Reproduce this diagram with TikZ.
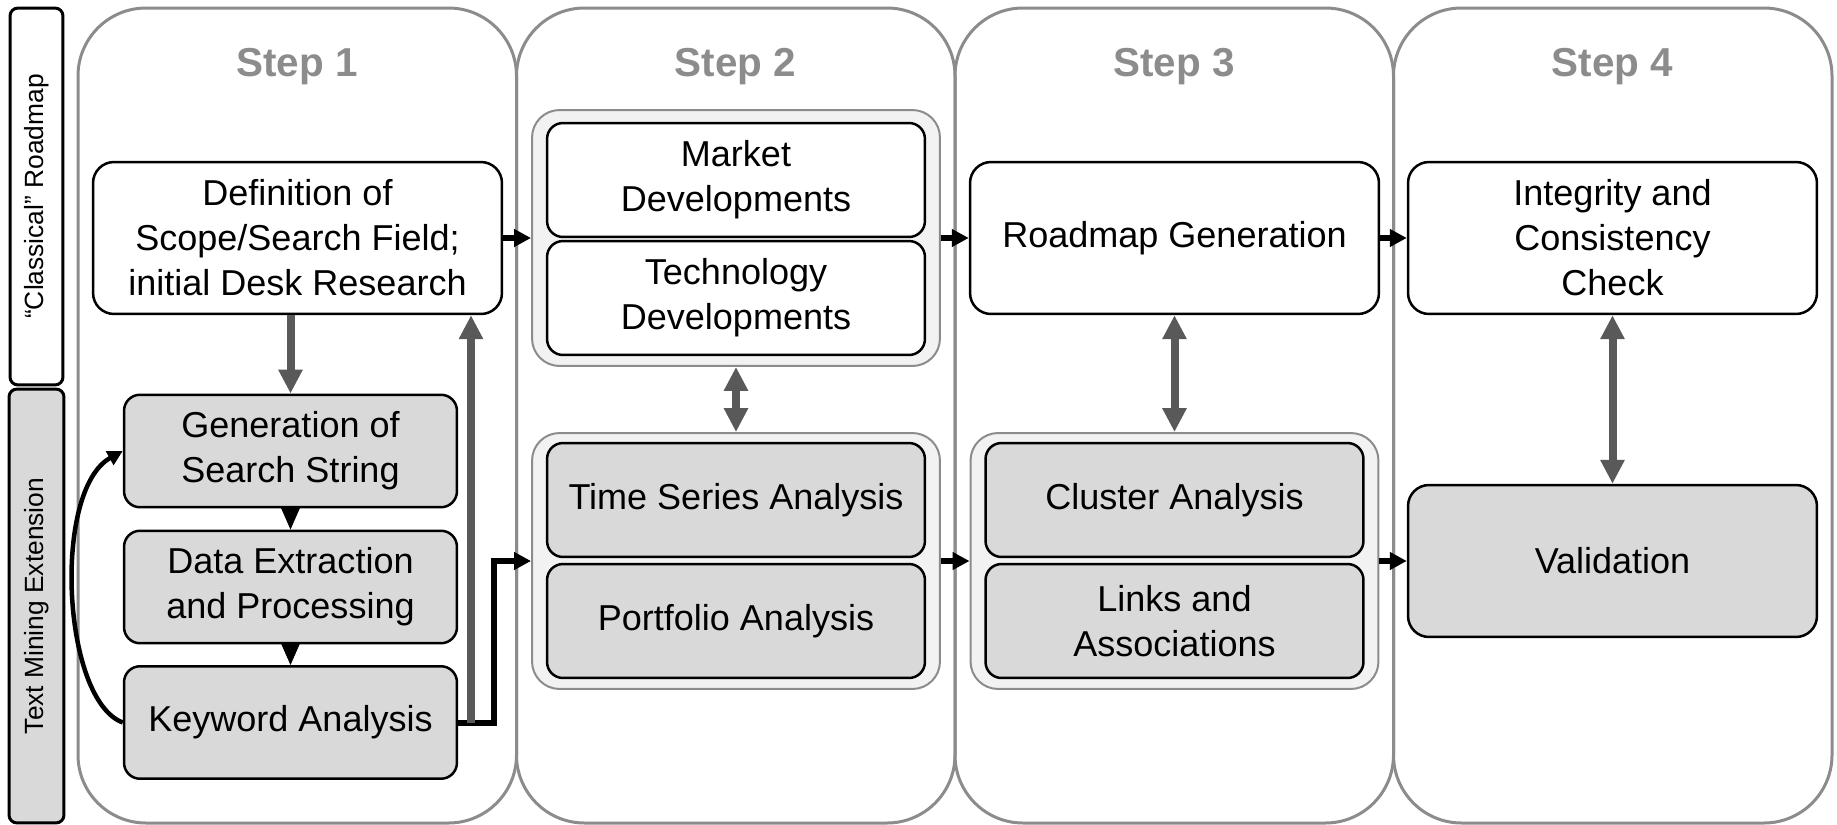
\documentclass[tikz,border=0pt]{standalone}
\usepackage{fontspec}
\setmainfont{Liberation Sans}
\usetikzlibrary{arrows.meta}

\definecolor{colline}{HTML}{8C8C8C}
\definecolor{boxgray}{HTML}{D9D9D9}
\definecolor{grpfill}{HTML}{F2F2F2}
\definecolor{arrgray}{HTML}{595959}

\begin{document}
\begin{tikzpicture}[x=0.02cm, y=-0.02cm,
    stepcol/.style={draw=colline, line width=0.06cm, rounded corners=1.36cm},
    steptitle/.style={text=colline, font=\bfseries\fontsize{23}{28}\selectfont},
    procbox/.style={draw, line width=0.05cm, rounded corners=0.42cm, align=center, inner sep=0pt,
      font=\fontsize{20.5}{25.6}\selectfont},
    bigbox/.style={procbox, minimum width=8.18cm, minimum height=3.04cm},
    minebox/.style={procbox, fill=boxgray, rounded corners=0.32cm, minimum width=6.66cm, minimum height=2.25cm},
    innerbox/.style={procbox, fill=white, rounded corners=0.32cm, minimum width=7.56cm, minimum height=2.28cm},
    groupbox/.style={draw=colline, fill=grpfill, line width=0.04cm, rounded corners=0.55cm,
      minimum width=8.16cm, minimum height=5.12cm},
    tabbox/.style={draw, line width=0.06cm, rounded corners=0.16cm, rotate=90, inner sep=0pt,
      font=\fontsize{15}{18}\selectfont},
    blkarr/.style={line width=0.12cm, -{Triangle[length=0.34cm, width=0.34cm]}},
    grayarr/.style={draw=arrgray, line width=0.16cm, -{Triangle[length=0.48cm, width=0.46cm]}},
    graydbl/.style={grayarr, {Triangle[length=0.48cm, width=0.46cm]}-{Triangle[length=0.48cm, width=0.46cm]}},
    tinyarr/.style={line width=0.4pt, -{Triangle[length=0.46cm, width=0.4cm]}},
    curvearr/.style={line width=0.09cm, -{Triangle[length=0.3cm, width=0.3cm]}}]

  \useasboundingbox (0,0) rectangle (1837,825);

  \foreach \x/\n in {78/1, 516.5/2, 955/3, 1393.5/4} {
    \draw[stepcol] (\x,8) rectangle ++(438.5,815);
    \node[steptitle] (title\n) at (\x+219,67) {Step \n};
  }

  \node[tabbox, fill=white, minimum width=7.54cm, minimum height=1.06cm] (classic) at (36.5,196.5) {“Classical” Roadmap};
  \node[tabbox, fill=boxgray, minimum width=8.68cm, minimum height=1.1cm] (textmine) at (36.5,606) {Text Mining Extension};

  \node[bigbox] (def) at (297.5,238) {Definition of\\Scope/Search Field;\\initial Desk Research};
  \node[minebox] (gen) at (290.5,451) {Generation of\\Search String};
  \node[minebox] (data) at (290.5,587) {Data Extraction\\and Processing};
  \node[minebox] (kw) at (290.5,722.5) {Keyword Analysis};

  \node[groupbox] (mkgrp) at (736,238) {};
  \node[innerbox] (market) at (736,180) {Market\\Developments};
  \node[innerbox] (tech) at (736,298) {Technology\\Developments};
  \node[groupbox] (angrp) at (736,561) {};
  \node[innerbox, fill=boxgray] (timeser) at (736,500) {Time Series Analysis};
  \node[innerbox, fill=boxgray] (portf) at (736,621) {Portfolio Analysis};

  \node[bigbox] (roadmap) at (1174.5,238) {Roadmap Generation};
  \node[groupbox] (clgrp) at (1174.5,561) {};
  \node[innerbox, fill=boxgray] (cluster) at (1174.5,500) {Cluster Analysis};
  \node[innerbox, fill=boxgray] (links) at (1174.5,621) {Links and\\Associations};

  \node[bigbox] (integ) at (1612.5,238) {Integrity and\\Consistency\\Check};
  \node[bigbox, fill=boxgray] (valid) at (1612.5,561) {Validation};

  \draw[tinyarr] (gen.south) -- (data.north);
  \draw[tinyarr] (data.south) -- (kw.north);
  \draw[curvearr] (kw.west) .. controls (62,700) and (52,490) .. (gen.west);
  \draw[grayarr] (def.south -| gen.north) -- (gen.north);

  \draw[blkarr] (kw.east) -- ++(36,0) |- (angrp.west);
  \coordinate (fb) at (471,722.5);
  \draw[grayarr] (fb) -- (fb |- def.south);

  \draw[blkarr] (def.east) -- (mkgrp.west);
  \draw[blkarr] (mkgrp.east) -- (roadmap.west);
  \draw[blkarr] (roadmap.east) -- (integ.west);
  \draw[blkarr] (angrp.east) -- (clgrp.west);
  \draw[blkarr] (clgrp.east) -- (valid.west);

  \draw[graydbl] (mkgrp.south) -- (angrp.north);
  \draw[graydbl] (roadmap.south) -- (clgrp.north);
  \draw[graydbl] (integ.south) -- (valid.north);
\end{tikzpicture}
\end{document}
